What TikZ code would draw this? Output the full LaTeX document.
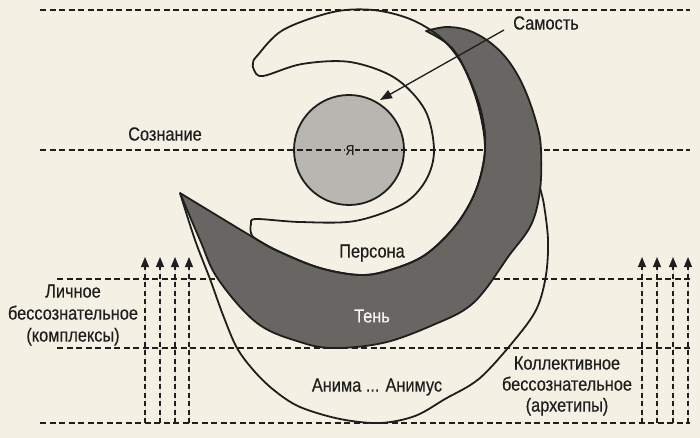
\documentclass[tikz,border=0pt]{standalone}
\usepackage{fontspec}
\setmainfont[FakeStretch=0.86,FakeBold=0.4]{Liberation Sans}
\usetikzlibrary{arrows.meta}
\definecolor{paper}{RGB}{244,241,228}
\definecolor{ink}{RGB}{30,30,30}
\definecolor{shadowc}{RGB}{104,102,98}
\definecolor{egoc}{RGB}{184,182,176}
\begin{document}
\begin{tikzpicture}[x=1pt,y=-1pt,
  dline/.style={draw=ink, line width=1.3pt, dash pattern=on 6pt off 3.5pt},
  vline/.style={draw=ink, fill=ink, line width=1.1pt, dash pattern=on 5pt off 3.5pt, -{Triangle[length=10pt,width=8pt]}},
  outline/.style={draw=ink, line width=1.8pt, line join=round},
  lbl/.style={font=\fontsize{19}{22}\selectfont, text=ink, align=center, inner sep=1pt}]
\useasboundingbox (0,0) rectangle (700,438);
\fill[paper] (0,0) rectangle (700,438);
% Ego circle
\filldraw[draw=ink, fill=egoc, line width=1.8pt] (349,150) circle (55);
% horizontal dashed lines
\coordinate (h1a) at (40,10);  \coordinate (h1b) at (690,10);
\coordinate (h2a) at (40,150); \coordinate (h2b) at (690,150);
\coordinate (h3a) at (57,279); \coordinate (h3b) at (690,279);
\coordinate (h4a) at (57,348); \coordinate (h4b) at (690,348);
\coordinate (h5a) at (40,423); \coordinate (h5b) at (690,423);
\draw[dline] (h1a) -- (h1b);
\draw[dline] (h2a) -- (h2b);
\draw[dline] (h3a) -- (h3b);
\draw[dline] (h4a) -- (h4b);
\draw[dline] (h5a) -- (h5b);
% vertical arrows
\foreach \x [count=\i] in {145,160,175,189,642,657,673,688}{
  \coordinate (va\i) at (\x,423);
  \coordinate (vb\i) at (\x,257);
  \draw[vline] (va\i) -- (vb\i);
}
% Shadow
\filldraw[outline, fill=shadowc]
  plot[smooth, tension=0.6] coordinates {(180,193) (200,240) (218,279) (257,323) (300,342) (335,348) (387,342) (440,322) (467,308) (485,290) (508,257) (531,225) (540,190) (541,150) (537,125) (525,90) (510,63) (492,44) (470,31) (447,27) (426,31)}
  -- plot[smooth, tension=0.6] coordinates {(426,31) (452,48) (470,80) (482,115) (485,150) (476,190) (456,225) (425,255) (390,270) (360,275) (320,268) (280,252) (256,239) (180,193)}
  -- cycle;
% Persona
\draw[outline] plot[smooth cycle, tension=0.55] coordinates {
  (263,76) (254,70) (253,63) (257,56) (283,30) (333,12) (373,10) (410,19) (440,37)
  (462,64) (478,105) (485,150) (476,190) (456,225) (425,255) (390,270) (360,275) (320,268) (280,252) (256,239)
  (251,233) (251,224) (256,219) (300,222) (355,221) (403,204) (426,180) (434,150) (425,110) (395,78) (350,62) (302,64)};
% Anima outline
\draw[outline] plot[smooth, tension=0.55] coordinates {(180,193) (195,240) (210,279) (223,315) (237,348) (255,372) (275,391) (300,407) (340,419) (380,423) (415,416) (445,399) (480,378) (517,337) (537,308) (546,275) (548,240) (544,205) (540,188)};
% labels
\node[lbl] (soz) at (165,134) {Сознание};
\node[lbl] (samost) at (546,23) {Самость};
\node[lbl, font=\fontsize{14}{15}\selectfont, fill=egoc] (ya) at (350,150) {Я};
\node[lbl] (persona) at (372,253) {Персона};
\node[lbl, text=white!92!gray] (ten) at (372,316) {Тень};
\node[lbl] (anima) at (377,387) {Анима ... Анимус};
\node[lbl] (lichnoe) at (73,315) {Личное\\бессознательное\\(комплексы)};
\node[lbl, font=\fontsize{19}{21}\selectfont] (koll) at (567,386) {Коллективное\\бессознательное\\(архетипы)};
% Self arrow
\coordinate (sa) at (504,30);
\coordinate (sb) at (380,100);
\draw[draw=ink, fill=ink, line width=1.3pt, -{Triangle[length=12pt,width=9pt]}] (sa) -- (sb);
\end{tikzpicture}
\end{document}
